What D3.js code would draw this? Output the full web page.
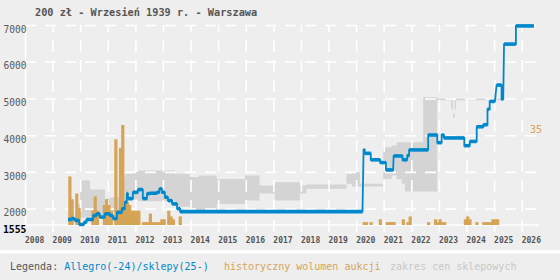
<!DOCTYPE html>
<html>
<head>
<meta charset="utf-8">
<script src="https://cdn.jsdelivr.net/npm/d3@7"></script>
<style>
    body { margin: 0; background: #eeeeee; }
    svg { display: block; font-family: "DejaVu Sans Mono", monospace; }
</style>
</head>
<body>
<svg id="chart"></svg>
<script>
const chartTitle = "200 zł - Wrzesień 1939 r. - Warszawa";
const priceTicks = [2000, 3000, 4000, 5000, 6000, 7000];
const priceMin = 1555;
const priceMax = 7000;
const volumeMax = 35;
const yearTicks = d3.range(2008, 2027);

// Allegro / shop price: flat stretches, from / to in decimal years
const priceFrom = [2009.56, 2009.68, 2009.80, 2009.96, 2010.14, 2010.23, 2010.47, 2010.59, 2010.71, 2010.89,
    2011.08, 2011.19, 2011.33, 2011.51, 2011.62, 2011.69, 2011.73, 2011.91, 2012.09, 2012.27,
    2012.42, 2012.53, 2012.78, 2012.87, 2012.96, 2013.07, 2013.18, 2013.33, 2013.51, 2013.62,
    2020.27, 2020.31, 2020.53, 2020.87, 2021.08, 2021.36, 2021.68, 2021.85, 2021.92, 2022.61,
    2022.94, 2023.10, 2023.18, 2023.92, 2024.12, 2024.37, 2024.61, 2024.76, 2024.84, 2025.09,
    2025.27, 2025.36, 2025.79];
const priceTo = [2009.68, 2009.80, 2009.96, 2010.14, 2010.23, 2010.47, 2010.59, 2010.71, 2010.89, 2011.08,
    2011.19, 2011.33, 2011.51, 2011.62, 2011.69, 2011.73, 2011.91, 2012.09, 2012.27, 2012.42,
    2012.53, 2012.78, 2012.87, 2012.96, 2013.07, 2013.18, 2013.33, 2013.51, 2013.62, 2020.23,
    2020.31, 2020.53, 2020.87, 2021.08, 2021.34, 2021.68, 2021.85, 2021.92, 2022.61, 2022.94,
    2023.10, 2023.18, 2023.92, 2024.12, 2024.37, 2024.61, 2024.76, 2024.84, 2025.03, 2025.27,
    2025.33, 2025.79, 2026.44];
const priceValue = [1705, 1730, 1680, 1570, 1630, 1705, 1813, 1860, 1770, 1860,
    1810, 1730, 1900, 2000, 2175, 2410, 2275, 2445, 2520, 2275,
    2410, 2420, 2445, 2540, 2445, 2310, 2220, 2130, 2000, 1920,
    3600, 3506, 3330, 3255, 3055, 3435, 3330, 3445, 3600, 4005,
    3797, 4005, 3925, 3715, 3830, 4230, 4285, 4710, 4920, 5365,
    4985, 6480, 6975];

// shop price range (step after each year mark)
const bandYear = [2009.85, 2010.0, 2010.36, 2010.9, 2011.08, 2011.45, 2011.63, 2011.87, 2012.1, 2013.43,
    2013.97, 2014.3, 2014.95, 2015.97, 2016.5, 2017.06, 2017.96, 2018.2, 2019.65, 2019.85,
    2020.14, 2020.98, 2021.29, 2021.47, 2021.65, 2021.77, 2022.43, 2022.94, 2023.40, 2023.45,
    2023.51, 2023.57, 2023.62, 2025.32];
const bandLow = [1800, 1760, 1800, 1900, 1900, 2000, 2200, 2250, 2200, 2050,
    1950, 1900, 2130, 2220, 2410, 2220, 2410, 2540, 2675, 2600,
    2600, 2810, 2900, 2800, 2675, 2465, 2465, 4950, 4950, 4700,
    4480, 4700, 4950, 4950];
const bandHigh = [2130, 2765, 2520, 2270, 2310, 2855, 2950, 2990, 3036, 2950,
    2860, 2900, 2810, 2900, 2630, 2720, 2630, 2655, 2950, 2990,
    2675, 3670, 3720, 3810, 3810, 3810, 5030, 4995, 4995, 4950,
    4600, 4950, 4995, 4995];

// historical auction volume per month
const volumeMonth = ["2009-08", "2009-09", "2009-11", "2009-12", "2010-06", "2010-07", "2010-08", "2010-11",
    "2010-12", "2011-01", "2011-02", "2011-04", "2011-05", "2011-06", "2011-07", "2011-08", "2011-09",
    "2011-10", "2011-11", "2011-12", "2012-01", "2012-02", "2012-04", "2012-05", "2012-06", "2012-07",
    "2012-08", "2012-09", "2012-10", "2012-11", "2012-12", "2013-01", "2013-03", "2013-04", "2013-05",
    "2013-08", "2020-04", "2020-05", "2020-07", "2020-11", "2021-02", "2021-03", "2021-04", "2021-05",
    "2021-09", "2021-11", "2021-12", "2022-08", "2022-11", "2022-12", "2023-01", "2023-02", "2023-03",
    "2023-12", "2024-01", "2024-02", "2024-05", "2024-08", "2024-09", "2024-10", "2024-11", "2024-12",
    "2025-01", "2025-02"];
const volumeCount = [17, 9, 11, 6, 5, 10, 5, 7,
    9, 7, 5, 30, 5, 27, 35, 6, 8,
    7, 5, 5, 5, 5, 1, 1, 1, 4,
    1, 1, 1, 1, 2, 2, 5, 3, 2,
    3, 1, 1, 1, 2, 1, 1, 1, 1,
    2, 1, 3, 1, 2, 1, 2, 1, 1,
    2, 3, 2, 1, 1, 1, 1, 1, 2,
    2, 2];

const monthToYear = (m) => +m.slice(0, 4) + (+m.slice(5, 7) - 1) / 12;

class PriceHistoryChart {

    constructor(_config) {
        this.config = {
            parentElement: _config.parentElement,
            containerWidth: _config.containerWidth || 560,
            containerHeight: _config.containerHeight || 280,
            plot: _config.plot || { left: 25, right: 539, top: 25, bottom: 225 },
            lineColor: "#0088cc",
            volumeColor: "#d6a456",
            bandColor: "#d4d4d4",
            textColor: "#555555",
        };
        this.initVis();
    }

    initVis() {
        const p = this.config.plot;

        this.xScale = d3.scaleLinear()
            .domain([2008, 2026])
            .range([p.left, 521.7]);

        this.yScale = d3.scaleLinear()
            .domain([priceMin, priceMax])
            .range([p.bottom, p.top]);

        this.volScale = d3.scaleLinear()
            .domain([0, volumeMax])
            .range([p.bottom, p.bottom - 100]);

        this.svg = d3.select(this.config.parentElement)
            .attr("width", this.config.containerWidth)
            .attr("height", this.config.containerHeight);

        this.bandGroup = this.svg.append("g");
        this.gridGroup = this.svg.append("g");
        this.barGroup = this.svg.append("g");
        this.lineGroup = this.svg.append("g");
        this.labelGroup = this.svg.append("g");

        this.renderVis();
    }

    renderVis() {
        const p = this.config.plot;
        const x = this.xScale, y = this.yScale;

        // shop price range
        const band = bandYear.map((t, i) => ({ t, lo: bandLow[i], hi: bandHigh[i] }));
        const area = d3.area()
            .x((d) => x(d.t))
            .y0((d) => y(d.lo))
            .y1((d) => y(d.hi))
            .curve(d3.curveStepAfter);
        this.bandGroup.append("path")
            .datum(band)
            .attr("d", area)
            .attr("fill", this.config.bandColor);

        // grid
        const yGrid = d3.axisLeft(y)
            .tickValues(priceTicks)
            .tickSize(-(p.right - p.left))
            .tickFormat("");
        this.gridGroup.append("g")
            .attr("transform", `translate(${p.left}, 0)`)
            .call(yGrid)
            .call((g) => g.select(".domain").remove())
            .selectAll("line")
            .attr("stroke", "#ffffff")
            .attr("stroke-width", 1.6)
            .attr("stroke-dasharray", "11,9");

        const xGrid = d3.axisBottom(x)
            .tickValues(yearTicks.slice(1))
            .tickSize(-(232 - p.top))
            .tickFormat("");
        this.gridGroup.append("g")
            .attr("transform", `translate(0, 232)`)
            .call(xGrid)
            .call((g) => g.select(".domain").remove())
            .selectAll("line")
            .attr("stroke", "#ffffff")
            .attr("stroke-width", 1.6)
            .attr("stroke-dasharray", "12,8");

        this.gridGroup.append("line")
            .attr("x1", p.left).attr("x2", p.right)
            .attr("y1", y(priceMin)).attr("y2", y(priceMin))
            .attr("stroke", "#ffffff").attr("stroke-width", 1.6);
        this.gridGroup.append("line")
            .attr("x1", p.left + 0.5).attr("x2", p.left + 0.5)
            .attr("y1", p.top).attr("y2", 232)
            .attr("stroke", "#ffffff").attr("stroke-width", 1.6);

        // auction volume bars
        const monthWidth = x(2009 + 1 / 12) - x(2009);
        this.barGroup.selectAll(".bar")
            .data(volumeMonth.map((m, i) => [monthToYear(m), volumeCount[i]]))
            .join("rect")
            .attr("class", "bar")
            .attr("x", (d) => x(d[0]) - 0.4)
            .attr("width", monthWidth + 0.9)
            .attr("y", (d) => this.volScale(d[1]))
            .attr("height", (d) => p.bottom - this.volScale(d[1]))
            .attr("fill", this.config.volumeColor);

        // price line: thin joins + thick flat stretches
        const points = [];
        priceValue.forEach((v, i) => {
            points.push([priceFrom[i], v], [priceTo[i], v]);
        });
        this.lineGroup.append("path")
            .datum(points)
            .attr("d", d3.line().x((d) => x(d[0])).y((d) => y(d[1])))
            .attr("fill", "none")
            .attr("stroke", this.config.lineColor)
            .attr("stroke-width", 1.8);

        this.lineGroup.selectAll(".flat")
            .data(priceValue.map((v, i) => [priceFrom[i], priceTo[i], v]))
            .join("line")
            .attr("class", "flat")
            .attr("x1", (d) => x(d[0]))
            .attr("x2", (d) => x(d[1]))
            .attr("y1", (d) => y(d[2]))
            .attr("y2", (d) => y(d[2]))
            .attr("stroke", this.config.lineColor)
            .attr("stroke-width", 3.6);

        // labels
        const labels = this.labelGroup;
        labels.append("text")
            .attr("x", 35).attr("y", 15.7)
            .attr("font-size", "10.25px")
            .attr("font-weight", "bold")
            .attr("fill", this.config.textColor)
            .text(chartTitle);

        labels.selectAll(".price-label")
            .data(priceTicks)
            .join("text")
            .attr("class", "price-label")
            .attr("x", 26.5)
            .attr("y", (d) => y(d) + 7.6)
            .attr("text-anchor", "end")
            .attr("font-size", "9.6px")
            .attr("fill", "#5a5a5a")
            .text((d) => d);

        labels.append("text")
            .attr("x", 26.5).attr("y", y(priceMin) + 7.8)
            .attr("text-anchor", "end")
            .attr("font-size", "9.8px")
            .attr("font-weight", "bold")
            .attr("fill", "#000000")
            .text(priceMin);

        labels.selectAll(".year-label")
            .data(yearTicks)
            .join("text")
            .attr("class", "year-label")
            .attr("x", (d) => x(d))
            .attr("y", 242.5)
            .attr("font-size", "8px")
            .attr("font-weight", "bold")
            .attr("fill", this.config.textColor)
            .text((d) => d);

        labels.append("text")
            .attr("x", 530).attr("y", this.volScale(volumeMax) + 8)
            .attr("font-size", "10px")
            .attr("fill", this.config.volumeColor)
            .text(volumeMax);

        // legend
        this.svg.append("rect")
            .attr("x", 0).attr("y", 250)
            .attr("width", this.config.containerWidth).attr("height", 3.5)
            .attr("fill", "#ffffff");

        const legend = labels.append("text")
            .attr("x", 10).attr("y", 270)
            .attr("font-size", "10px")
            .attr("xml:space", "preserve");
        legend.append("tspan").attr("fill", "#555555").text("Legenda: ");
        legend.append("tspan").attr("fill", this.config.lineColor).text("Allegro(-24)/sklepy(25-)");

        labels.append("text")
            .attr("x", 224).attr("y", 270)
            .attr("font-size", "10px")
            .attr("fill", this.config.volumeColor)
            .text("historyczny wolumen aukcji");

        labels.append("text")
            .attr("x", 390).attr("y", 270)
            .attr("font-size", "10px")
            .attr("fill", "#c8c8c8")
            .text("zakres cen sklepowych");
    }
}

new PriceHistoryChart({ parentElement: "#chart" });
</script>
</body>
</html>
